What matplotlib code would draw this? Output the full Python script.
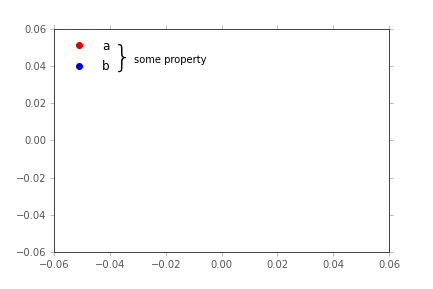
import numpy as np
import matplotlib.pyplot as plt

labels = ['a', 'b']
colors = ['#dd0000', '#0000dd']
ticks = [-0.06, -0.04, -0.02, 0.00, 0.02, 0.04, 0.06]
brace_text = 'some property'

fig = plt.figure(figsize=(433 / 72, 289 / 72), dpi=72)
ax = fig.add_axes([0.1247, 0.128, 0.7737, 0.772])

for lab, col in zip(labels, colors):
    ax.plot([], [], 'o', color=col, markeredgecolor=col, markersize=6, label=lab)

ax.set_xlim(ticks[0], ticks[-1])
ax.set_ylim(ticks[0], ticks[-1])
ax.set_xticks(ticks)
ax.set_yticks(ticks)
ax.set_xticklabels([f'{t:.2f}'.replace('-', '\u2212') for t in ticks])
ax.set_yticklabels([f'{t:.2f}'.replace('-', '\u2212') for t in ticks])

for s in ax.spines.values():
    s.set_color('#444444')
    s.set_linewidth(1.0)
ax.tick_params(direction='out', length=4, color='#aaaaaa', labelcolor='#555555',
               labelsize=10, top=True, right=True, labeltop=False, labelright=False)

leg = ax.legend(loc='upper left', frameon=False, numpoints=1, fontsize=12,
                handletextpad=0.95, labelspacing=0.6,
                bbox_to_anchor=(0.01, 0.995), borderaxespad=0.4)

ax.text(0.203, 0.868, '}', transform=ax.transAxes, fontsize=30,
        ha='center', va='center', fontweight='light')
ax.text(0.238, 0.862, brace_text, transform=ax.transAxes, fontsize=10,
        ha='left', va='center')

fig.savefig('out.png', dpi=72)
